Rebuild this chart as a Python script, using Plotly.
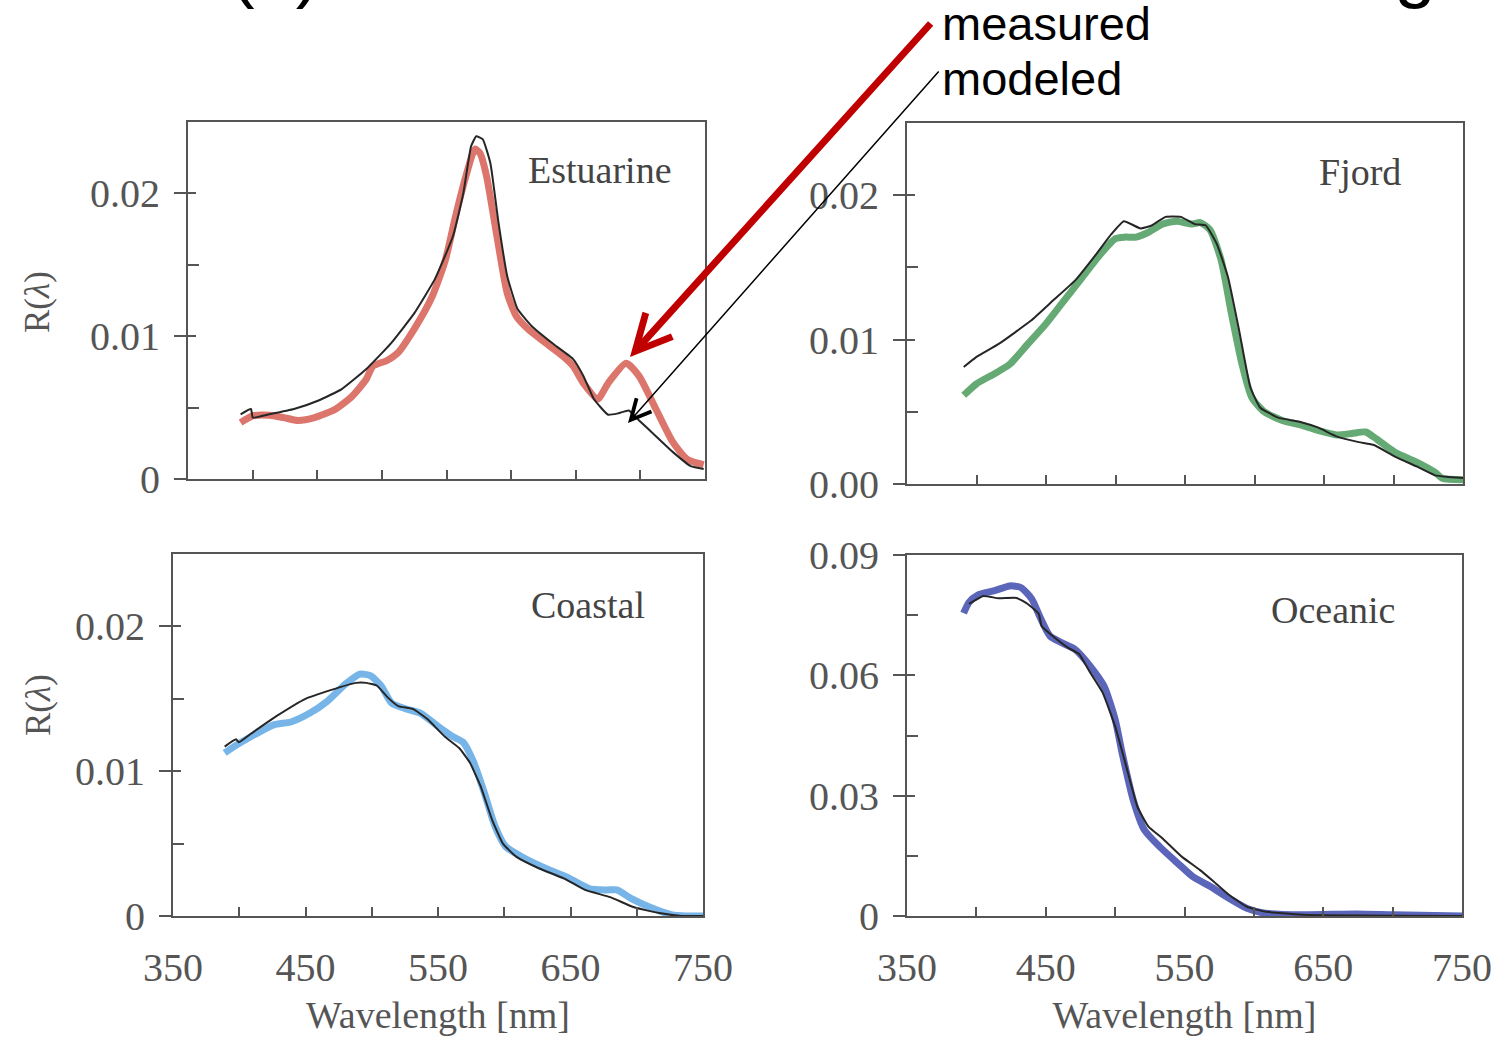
import plotly.graph_objects as go

# ---------------- data ----------------
# Estuarine
est_meas_wl = [390.7, 400, 413, 424, 435, 448, 464, 477, 488, 493, 504, 512, 525, 539, 549, 557, 565, 572, 576, 581,
               589, 597, 604, 613, 627, 640, 648, 656, 667, 675, 689, 699, 712, 725, 736, 749]
est_meas_r = [0.00395, 0.00442, 0.00447, 0.0043, 0.0041, 0.0043, 0.00488, 0.0058, 0.0070, 0.0079, 0.0083, 0.0088,
              0.0105, 0.0128, 0.0153, 0.0184, 0.0212, 0.0231, 0.0228, 0.0212, 0.0170, 0.0130, 0.0114, 0.0105, 0.0095,
              0.0086, 0.0079, 0.0067, 0.0056, 0.0067, 0.0081, 0.0072, 0.0049, 0.0026, 0.0014, 0.0010]
est_mod_wl = [390.7, 398.7, 400.2, 413, 432, 451, 469, 488, 507, 525, 541, 555, 563, 569, 573, 578, 584, 590, 597, 605,
              616, 632, 648, 656, 664, 675, 683, 691, 699, 712, 725, 739, 749]
est_mod_r = [0.00453, 0.0049, 0.0043, 0.00453, 0.0049, 0.0055, 0.0063, 0.0077, 0.0095, 0.0116, 0.0140, 0.0170, 0.0200,
             0.0233, 0.0240, 0.0238, 0.0221, 0.0181, 0.0142, 0.0119, 0.0107, 0.0095, 0.0084, 0.0072, 0.0056, 0.0045,
             0.0046, 0.0048, 0.0041, 0.0030, 0.0019, 0.0009, 0.0007]

# Fjord
fj_meas_wl = [390.8, 400, 413, 424, 437, 450, 463, 476, 489, 500, 507, 515, 523, 534, 544, 555, 561, 568, 576, 583,
              591, 598, 607, 620, 633, 646, 659, 670, 680, 688, 701, 717, 730, 735, 751]
fj_meas_r = [0.00614, 0.00694, 0.00764, 0.0083, 0.0097, 0.0111, 0.0127, 0.0143, 0.0159, 0.0170, 0.0171, 0.0171,
             0.0174, 0.0180, 0.0182, 0.0180, 0.0181, 0.0176, 0.0155, 0.0120, 0.0083, 0.0060, 0.0050, 0.0044, 0.0041,
             0.0037, 0.0034, 0.0035, 0.0036, 0.0031, 0.0022, 0.0015, 0.0008, 0.0004, 0.0003]
fj_mod_wl = [390.8, 400, 416, 439, 455, 471, 486, 497, 506, 518, 526, 536, 547, 557, 565, 573, 581, 589, 597, 604,
             617, 633, 646, 659, 675, 686, 701, 717, 730, 738, 751]
fj_mod_r = [0.0081, 0.0088, 0.0097, 0.0113, 0.0127, 0.0141, 0.0159, 0.0173, 0.0182, 0.0177, 0.0179, 0.0185, 0.0185,
            0.0180, 0.0179, 0.0166, 0.0143, 0.0106, 0.0067, 0.0053, 0.0046, 0.0043, 0.0039, 0.0033, 0.0029, 0.0027,
            0.0019, 0.0012, 0.0006, 0.0005, 0.0004]

# Coastal
co_meas_wl = [389, 396, 409, 426, 439, 453, 466, 480, 491, 499, 507, 515, 526, 537, 550, 561, 569, 577, 585, 593,
              601, 615, 631, 647, 664, 677, 685, 696, 710, 726, 737, 750]
co_meas_r = [0.01126, 0.0117, 0.0124, 0.0132, 0.0134, 0.0140, 0.0148, 0.0160, 0.0167, 0.0166, 0.0159, 0.0147, 0.0143,
             0.0140, 0.0131, 0.0124, 0.0120, 0.0106, 0.0085, 0.0062, 0.0048, 0.0040, 0.0033, 0.0027, 0.0019, 0.0018,
             0.0018, 0.0012, 0.0006, 0.0001, 0.0, 0.0]
co_mod_wl = [389, 397.6, 399.7, 409, 428, 450, 469, 488, 496, 504, 512, 520, 531, 542, 555, 566, 574, 582, 591, 599,
             609, 626, 645, 661, 680, 698, 717, 734, 750]
co_mod_r = [0.0117, 0.0122, 0.0120, 0.0126, 0.0138, 0.0150, 0.0156, 0.0161, 0.0161, 0.0159, 0.0151, 0.0145, 0.0143,
            0.0136, 0.0124, 0.0116, 0.0106, 0.0090, 0.0066, 0.0050, 0.0041, 0.0033, 0.0026, 0.0018, 0.0013, 0.0006,
            0.0002, 0.0, 0.0]

# Oceanic
oc_meas_wl = [390.8, 394.7, 401, 413, 424, 432, 440, 446, 453, 461, 471, 482, 492, 500, 505, 513, 521, 532, 545, 556,
              569, 582, 595, 608, 635, 674, 700, 750.6]
oc_meas_r = [0.0755, 0.0782, 0.0800, 0.0811, 0.0823, 0.0819, 0.0790, 0.0744, 0.0698, 0.0682, 0.0665, 0.0623, 0.0573,
             0.0490, 0.0407, 0.0290, 0.0215, 0.0173, 0.0132, 0.0098, 0.0073, 0.0044, 0.0019, 0.0007, 0.0003, 0.0005,
             0.0003, 0.0]
oc_mod_wl = [394.7, 405, 416, 429, 437, 445, 447, 455, 466, 474, 482, 491, 500, 508, 516, 524, 534, 548, 561, 571,
             582, 595, 608, 635, 750.6]
oc_mod_r = [0.0778, 0.0798, 0.0792, 0.0793, 0.0778, 0.0753, 0.0723, 0.0698, 0.0669, 0.0653, 0.0607, 0.0557, 0.0473,
            0.0373, 0.0273, 0.0223, 0.0194, 0.0148, 0.0115, 0.0086, 0.0053, 0.0023, 0.0011, 0.0003, 0.0]

# ticks and labels
x_tick_vals = [350, 450, 550, 650, 750]
x_tick_text = ["350", "450", "550", "650", "750"]
y_tick_vals_a = [0, 0.01, 0.02]
y_tick_text_a = ["0", "0.01", "0.02"]
y_tick_text_fjord = ["0.00", "0.01", "0.02"]
y_minor_a = [0.005, 0.015]
y_tick_vals_oc = [0, 0.03, 0.06, 0.09]
y_tick_text_oc = ["0", "0.03", "0.06", "0.09"]
y_minor_oc = [0.015, 0.045, 0.075]
y_range_a = [0, 0.025]
y_range_oc = [0, 0.09]
panel_names = ["Estuarine", "Fjord", "Coastal", "Oceanic"]

# ---------------- styling / layout ----------------
W, H = 1499, 1037
AX = "#555555"
SERIF = "Liberation Serif"
SANS = "Liberation Sans"
MOD_COLOR = "#262626"
meas_colors = ["#d9675b", "#55a065", "#69ade6", "#4a55b2"]
TICK_SIZE = 40


def px(x):
    return x / W


def py(y):
    return 1 - y / H


fig = go.Figure()

series = [
    (est_meas_wl, est_meas_r, est_mod_wl, est_mod_r, "x", "y"),
    (fj_meas_wl, fj_meas_r, fj_mod_wl, fj_mod_r, "x2", "y2"),
    (co_meas_wl, co_meas_r, co_mod_wl, co_mod_r, "x3", "y3"),
    (oc_meas_wl, oc_meas_r, oc_mod_wl, oc_mod_r, "x4", "y4"),
]
for i, (mw, mr, dw, dr, xa, ya) in enumerate(series):
    fig.add_trace(go.Scatter(x=mw, y=mr, mode="lines", xaxis=xa, yaxis=ya,
                             name=panel_names[i] + " measured",
                             line=dict(color=meas_colors[i], width=7, shape="spline", smoothing=0.6),
                             opacity=0.9))
    fig.add_trace(go.Scatter(x=dw, y=dr, mode="lines", xaxis=xa, yaxis=ya,
                             name=panel_names[i] + " modeled",
                             line=dict(color=MOD_COLOR, width=2, shape="spline", smoothing=0.4)))
# empty traces that carry the overlay axes (inner half of the crossing y ticks)
for i, (xa, ya) in enumerate([("x", "y5"), ("x2", "y6"), ("x3", "y7"), ("x4", "y8")]):
    fig.add_trace(go.Scatter(x=[], y=[], xaxis=xa, yaxis=ya, mode="lines", hoverinfo="skip",
                             name=panel_names[i] + " ticks"))


def make_xaxis(domain, anchor, labels):
    d = dict(domain=domain, anchor=anchor, range=[350, 750], automargin=False,
             showline=True, mirror=True,
             linecolor=AX, linewidth=2, showgrid=False, zeroline=False,
             tickmode="array", tickvals=x_tick_vals, ticktext=x_tick_text,
             ticks="inside", ticklen=9, tickwidth=2, tickcolor=AX,
             minor=dict(tickmode="linear", tick0=350, dtick=50, ticks="inside", ticklen=9,
                        tickwidth=2, tickcolor=AX, showgrid=False),
             showticklabels=labels, ticklabelstandoff=15,
             tickfont=dict(family=SERIF, size=TICK_SIZE, color=AX))
    if labels:
        d["title"] = dict(text="Wavelength [nm]", standoff=12,
                          font=dict(family=SERIF, size=38, color=AX))
    return d


def make_yaxis(domain, anchor, rng, vals, text, minor_vals):
    return dict(domain=domain, anchor=anchor, range=rng, automargin=False,
                showline=True, mirror=True,
                linecolor=AX, linewidth=2, showgrid=False, zeroline=False,
                tickmode="array", tickvals=vals, ticktext=text,
                ticks="outside", ticklen=12, tickwidth=2, tickcolor=AX,
                minor=dict(tickmode="array", tickvals=minor_vals, ticks="inside", ticklen=11,
                           tickwidth=2, tickcolor=AX, showgrid=False),
                ticklabelstandoff=6,
                tickfont=dict(family=SERIF, size=TICK_SIZE, color=AX))


def make_overlay(base, anchor, rng, vals):
    return dict(overlaying=base, anchor=anchor, range=rng, automargin=False,
                showline=False, showgrid=False, zeroline=False, showticklabels=False,
                tickmode="array", tickvals=vals, ticks="inside", ticklen=8, tickwidth=2,
                tickcolor=AX)


fig.update_layout(
    template="none",
    width=W, height=H, margin=dict(l=0, r=0, t=0, b=0, pad=0), autosize=False,
    paper_bgcolor="white", plot_bgcolor="white", showlegend=False,
    xaxis=make_xaxis([px(188), px(705)], "y", False),
    yaxis=make_yaxis([py(479), py(122)], "x", y_range_a, y_tick_vals_a, y_tick_text_a, y_minor_a),
    xaxis2=make_xaxis([px(907), px(1463)], "y2", False),
    yaxis2=make_yaxis([py(484), py(123)], "x2", y_range_a, y_tick_vals_a, y_tick_text_fjord, y_minor_a),
    xaxis3=make_xaxis([px(173), px(703)], "y3", True),
    yaxis3=make_yaxis([py(916), py(554)], "x3", y_range_a, y_tick_vals_a, y_tick_text_a, y_minor_a),
    xaxis4=make_xaxis([px(907), px(1462)], "y4", True),
    yaxis4=make_yaxis([py(916), py(555)], "x4", y_range_oc, y_tick_vals_oc, y_tick_text_oc, y_minor_oc),
    yaxis5=make_overlay("y", "x", y_range_a, y_tick_vals_a[1:]),
    yaxis6=make_overlay("y2", "x2", y_range_a, y_tick_vals_a[1:]),
    yaxis7=make_overlay("y3", "x3", y_range_a, y_tick_vals_a[1:]),
    yaxis8=make_overlay("y4", "x4", y_range_oc, y_tick_vals_oc[1:-1]),
)

annotations = []
# panel names
for name, (cx, cy) in zip(panel_names, [(600, 170), (1360, 172), (588, 605), (1333, 610)]):
    annotations.append(dict(text=name, x=px(cx), y=py(cy), xref="paper", yref="paper",
                            xanchor="center", yanchor="middle", showarrow=False,
                            font=dict(family=SERIF, size=38, color="#444444")))
# y titles
for cy in [302, 705]:
    annotations.append(dict(text="R(<i>λ</i>)", x=px(38), y=py(cy), xref="paper", yref="paper",
                            xanchor="center", yanchor="middle", showarrow=False, textangle=-90,
                            font=dict(family=SERIF, size=35, color=AX)))
# measured / modeled labels
annotations.append(dict(text="measured", x=px(940), y=py(23), xref="paper", yref="paper",
                        xanchor="left", yanchor="middle", showarrow=False,
                        font=dict(family=SANS, size=47, color="black")))
annotations.append(dict(text="modeled", x=px(940), y=py(79), xref="paper", yref="paper",
                        xanchor="left", yanchor="middle", showarrow=False,
                        font=dict(family=SANS, size=47, color="black")))
# arrows
annotations.append(dict(text="", x=px(630), y=py(357), xref="paper", yref="paper",
                        ax=302, ay=-335, showarrow=True, arrowhead=5, arrowsize=1,
                        arrowwidth=7, arrowcolor="#c00000"))
annotations.append(dict(text="", x=px(628), y=py(423), xref="paper", yref="paper",
                        ax=312, ay=-353, showarrow=True, arrowhead=5, arrowsize=2.6,
                        arrowwidth=1.5, arrowcolor="black"))
# slide title, mostly cut off by the top edge
annotations.append(dict(text="(a)", x=px(228), y=py(12), xref="paper", yref="paper",
                        xanchor="left", yanchor="bottom", showarrow=False,
                        font=dict(family=SANS, size=74, color="black")))
annotations.append(dict(text="Reflectance modeling", x=px(1438), y=py(12), xref="paper", yref="paper",
                        xanchor="right", yanchor="bottom", showarrow=False,
                        font=dict(family=SANS, size=74, color="black")))

fig.update_layout(annotations=annotations)

fig.write_html("out.html")
